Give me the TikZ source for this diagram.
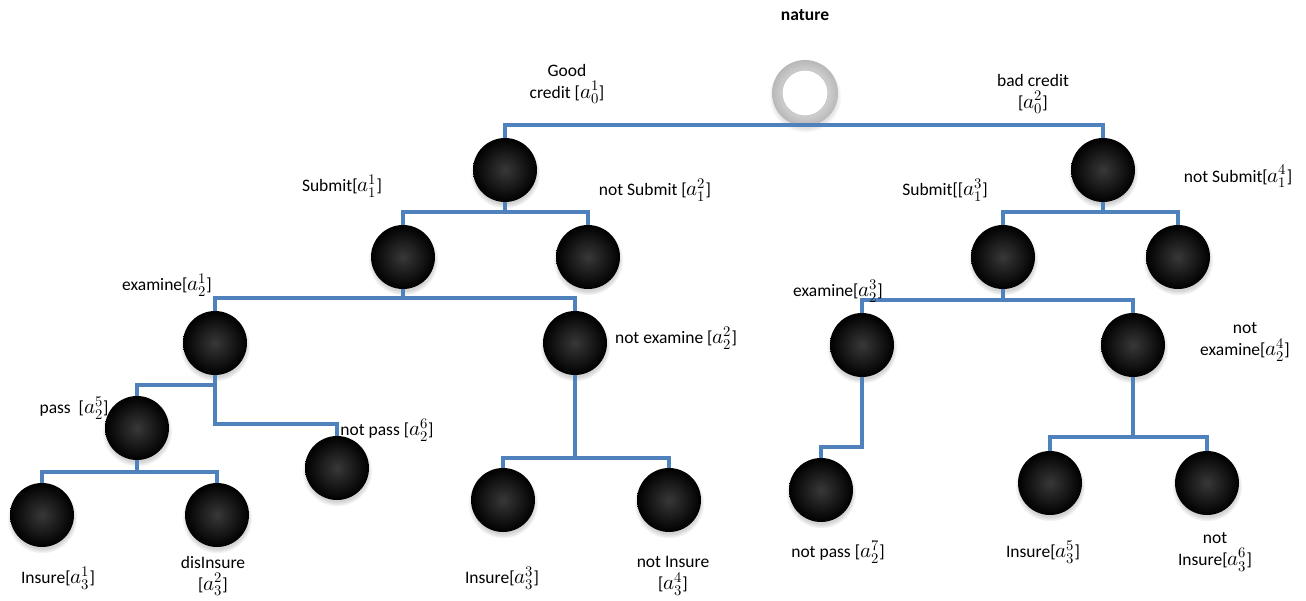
\documentclass[tikz,border=0pt]{standalone}
\usepackage{fontspec}
\usepackage{unicode-math}
\setmainfont{Carlito}
\setmathfont{Latin Modern Math}[Scale=1.2]
\usepackage{tikz}
\usetikzlibrary{shadows}
\definecolor{branch}{RGB}{79,129,189}

\begin{document}
\begin{tikzpicture}[
  x=1pt,y=-1pt,
  font=\fontsize{17.5}{22}\selectfont,
  player/.style={circle,minimum size=64pt,inner sep=0pt,outer sep=0pt,
    shade,inner color=black!78,outer color=black,
    circular drop shadow={shadow xshift=0pt,shadow yshift=-3pt,opacity=0.35}},
  chance/.style={circle,minimum size=66pt,inner sep=0pt,outer sep=0pt,
    shade,inner color=white,outer color=black!28,
    path picture={\fill[white] (path picture bounding box.center) circle (23pt);
      \draw[black!22,line width=1pt] (path picture bounding box.center) circle (23pt);},
    circular drop shadow={shadow xshift=0pt,shadow yshift=-3pt,opacity=0.25}},
  edge/.style={draw=branch,line width=4pt},
  act/.style={align=center,inner sep=1pt},
]
  \useasboundingbox (0,0) rectangle (1306,600);

  % decision nodes
  \node[chance] (nat) at (805,93) {};
  \node[player] (g) at (505,170) {};
  \node[player] (b) at (1103,170) {};
  \node[player] (s1) at (403,257) {};
  \node[player] (ns1) at (588,257) {};
  \node[player] (s3) at (1003,257) {};
  \node[player] (ns4) at (1178,257) {};
  \node[player] (e1) at (215,343) {};
  \node[player] (ne1) at (575,343) {};
  \node[player] (e3) at (862,345) {};
  \node[player] (ne4) at (1133,345) {};
  \node[player] (p5) at (137,428) {};
  \node[player] (np6) at (337,468) {};
  \node[player] (np7) at (821,490) {};
  \node[player] (i1) at (42,515) {};
  \node[player] (di2) at (217,515) {};
  \node[player] (i3) at (503,500) {};
  \node[player] (ni4) at (669,500) {};
  \node[player] (i5) at (1050,483) {};
  \node[player] (ni6) at (1207,483) {};

  % branches
  \draw[edge] (nat) -- (nat |- 0,125) -| (g);
  \draw[edge] (nat |- 0,125) -| (b);
  \draw[edge] (g) -- (g |- 0,212) -| (s1);
  \draw[edge] (g |- 0,212) -| (ns1);
  \draw[edge] (b) -- (b |- 0,212) -| (s3);
  \draw[edge] (b |- 0,212) -| (ns4);
  \draw[edge] (s1) -- (s1 |- 0,298) -| (e1);
  \draw[edge] (s1 |- 0,298) -| (ne1);
  \draw[edge] (s3) -- (s3 |- 0,300) -| (e3);
  \draw[edge] (s3 |- 0,300) -| (ne4);
  \draw[edge] (e1) -- (e1 |- 0,385) -| (p5);
  \draw[edge] (e1 |- 0,385) -- (e1 |- 0,424) -| (np6);
  \draw[edge] (p5) -- (p5 |- 0,472) -| (i1);
  \draw[edge] (p5 |- 0,472) -| (di2);
  \draw[edge] (ne1) -- (ne1 |- 0,458) -| (i3);
  \draw[edge] (ne1 |- 0,458) -| (ni4);
  \draw[edge] (e3) -- (e3 |- 0,447) -| (np7);
  \draw[edge] (ne4) -- (ne4 |- 0,437) -| (i5);
  \draw[edge] (ne4 |- 0,437) -| (ni6);

  % action labels
  \node[act,font=\fontsize{17.5}{22}\selectfont\bfseries] (natl) at (805,15) {nature};
  \node[act] (gl) at (567,84) {Good\\credit [$a_0^1$]};
  \node[act] (bl) at (1033,94) {bad credit\\{}[$a_0^2$]};
  \node[act] (s1l) at (342,186) {Submit[$a_1^1$]};
  \node[act] (ns1l) at (655,190) {not Submit [$a_1^2$]};
  \node[act] (s3l) at (945,190) {Submit[[$a_1^3$]};
  \node[act] (ns4l) at (1238,176) {not Submit[$a_1^4$]};
  \node[act] (e1l) at (167,285) {examine[$a_2^1$]};
  \node[act] (ne1l) at (676,338) {not examine [$a_2^2$]};
  \node[act] (e3l) at (838,291) {examine[$a_2^3$]};
  \node[act] (ne4l) at (1245,342) {not\\examine[$a_2^4$]};
  \node[act] (p5l) at (74,408) {pass~~[$a_2^5$]};
  \node[act] (np6l) at (387,430) {not pass [$a_2^6$]};
  \node[act] (np7l) at (838,552) {not pass [$a_2^7$]};
  \node[act] (i1l) at (58,578) {Insure[$a_3^1$]};
  \node[act] (di2l) at (213,576) {disInsure\\{}[$a_3^2$]};
  \node[act] (i3l) at (502,578) {Insure[$a_3^3$]};
  \node[act] (ni4l) at (673,576) {not Insure\\{}[$a_3^4$]};
  \node[act] (i5l) at (1043,552) {Insure[$a_3^5$]};
  \node[act] (ni6l) at (1215,552) {not\\Insure[$a_3^6$]};
\end{tikzpicture}
\end{document}
